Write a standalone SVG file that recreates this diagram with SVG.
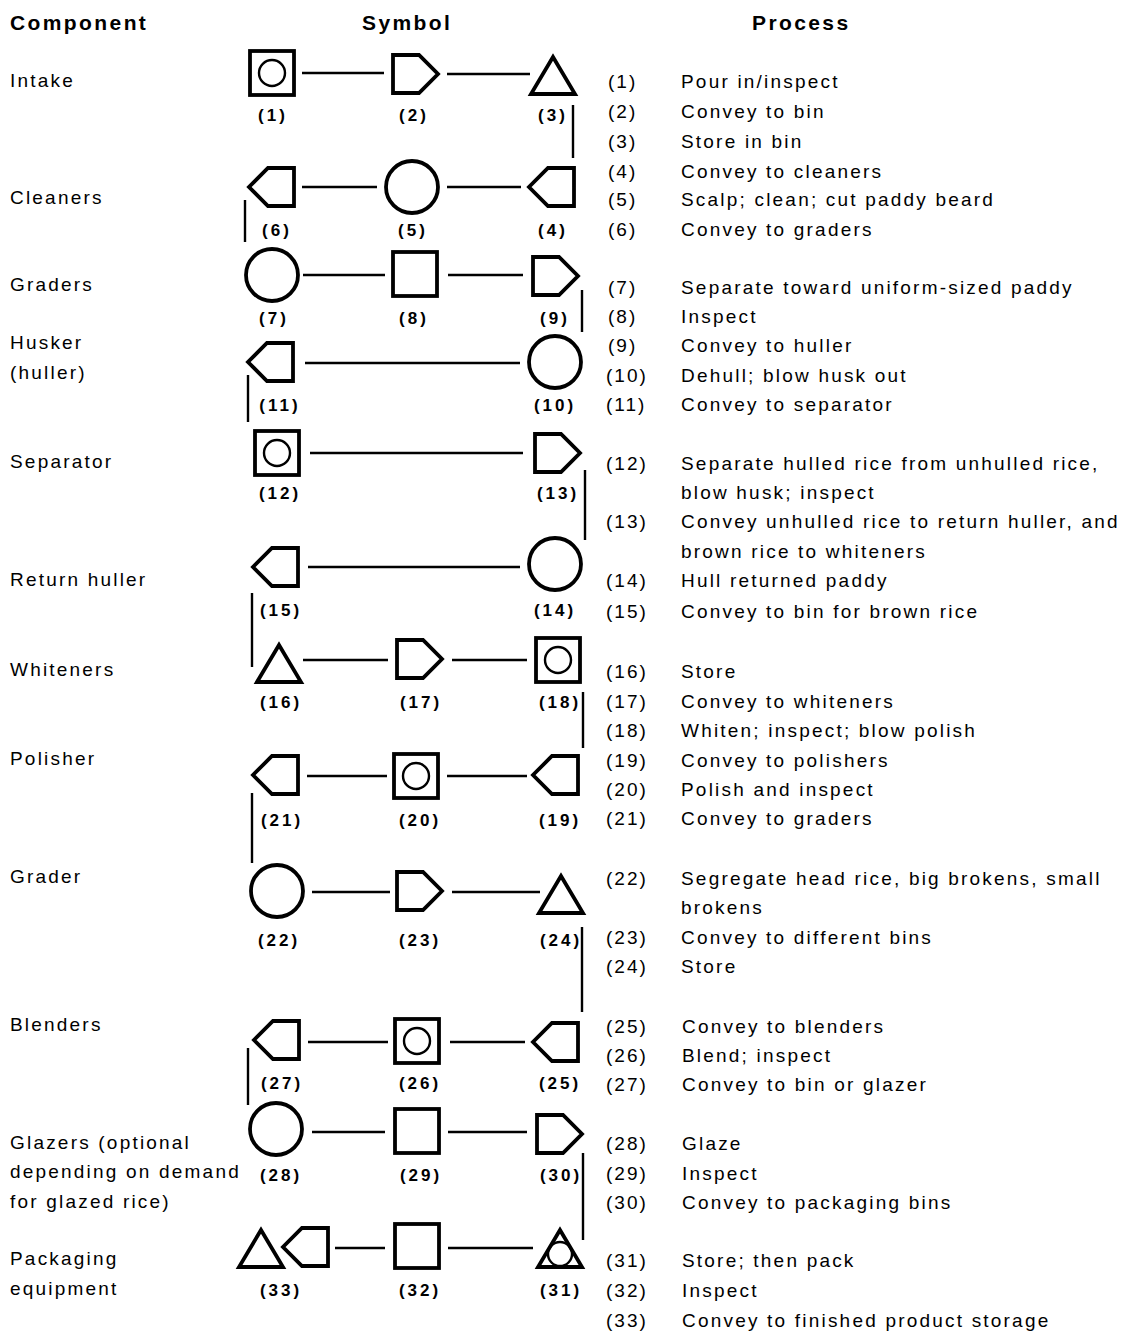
<svg xmlns="http://www.w3.org/2000/svg" xmlns:xlink="http://www.w3.org/1999/xlink" width="1123" height="1334" viewBox="0 0 1123 1334">
<style>
text{font-family:"Liberation Sans",Arial,sans-serif;fill:#000}
.hd{font-size:21px;font-weight:bold;letter-spacing:2.4px}
.cmp{font-size:19px;letter-spacing:2.2px}
.pn{font-size:19px;letter-spacing:2px}
.pt{font-size:19px;letter-spacing:2.2px}
.num{font-size:17px;font-weight:bold;letter-spacing:3px;text-anchor:middle}
.sym{fill:#fff;stroke:#000;stroke-width:3.8;stroke-linejoin:miter}
.in{fill:none;stroke:#000;stroke-width:2.4}
.con{stroke:#000;stroke-width:2.4;fill:none}
</style>
<defs>
<path id="pr" d="M-22,-19 H4 L23,0 L4,19 H-22 Z"/>
<path id="pl" d="M22,-19 H-4 L-23,0 L-4,19 H22 Z"/>
<path id="tri" d="M0,-19 L22,18 H-22 Z"/>
<rect id="sq" x="-22" y="-22" width="44" height="44"/>
<circle id="ci" r="26"/>
</defs>
<rect width="1123" height="1334" fill="#fff"/>

<g id="headers">
<text class="hd" x="10" y="30">Component</text>
<text class="hd" x="362" y="30">Symbol</text>
<text class="hd" x="752" y="30">Process</text>
</g>

<g id="components">
<text class="cmp" x="10" y="87">Intake</text>
<text class="cmp" x="10" y="204">Cleaners</text>
<text class="cmp" x="10" y="291">Graders</text>
<text class="cmp" x="10" y="349">Husker</text>
<text class="cmp" x="10" y="379">(huller)</text>
<text class="cmp" x="10" y="468">Separator</text>
<text class="cmp" x="10" y="586">Return huller</text>
<text class="cmp" x="10" y="676">Whiteners</text>
<text class="cmp" x="10" y="765">Polisher</text>
<text class="cmp" x="10" y="883">Grader</text>
<text class="cmp" x="10" y="1031">Blenders</text>
<text class="cmp" x="10" y="1149">Glazers (optional</text>
<text class="cmp" x="10" y="1178">depending on demand</text>
<text class="cmp" x="10" y="1208">for glazed rice)</text>
<text class="cmp" x="10" y="1265">Packaging</text>
<text class="cmp" x="10" y="1295">equipment</text>
</g>

<g id="connectors">
<line class="con" x1="302" y1="73" x2="384" y2="73"/>
<line class="con" x1="447" y1="74" x2="530" y2="74"/>
<line class="con" x1="573" y1="105" x2="573" y2="158"/>
<line class="con" x1="302" y1="187" x2="377" y2="187"/>
<line class="con" x1="447" y1="187" x2="521" y2="187"/>
<line class="con" x1="245" y1="200" x2="245" y2="242"/>
<line class="con" x1="303" y1="275" x2="385" y2="275"/>
<line class="con" x1="448" y1="275" x2="523" y2="275"/>
<line class="con" x1="582" y1="290" x2="582" y2="332"/>
<line class="con" x1="305" y1="363" x2="520" y2="363"/>
<line class="con" x1="248" y1="375" x2="248" y2="422"/>
<line class="con" x1="310" y1="453" x2="523" y2="453"/>
<line class="con" x1="585" y1="470" x2="585" y2="540"/>
<line class="con" x1="308" y1="567" x2="520" y2="567"/>
<line class="con" x1="252" y1="593" x2="252" y2="667"/>
<line class="con" x1="303" y1="660" x2="388" y2="660"/>
<line class="con" x1="452" y1="660" x2="527" y2="660"/>
<line class="con" x1="583" y1="692" x2="583" y2="748"/>
<line class="con" x1="307" y1="776" x2="387" y2="776"/>
<line class="con" x1="447" y1="776" x2="527" y2="776"/>
<line class="con" x1="252" y1="793" x2="252" y2="863"/>
<line class="con" x1="312" y1="892" x2="390" y2="892"/>
<line class="con" x1="452" y1="892" x2="540" y2="892"/>
<line class="con" x1="582" y1="927" x2="582" y2="1012"/>
<line class="con" x1="308" y1="1042" x2="388" y2="1042"/>
<line class="con" x1="450" y1="1042" x2="525" y2="1042"/>
<line class="con" x1="248" y1="1048" x2="248" y2="1105"/>
<line class="con" x1="312" y1="1132" x2="385" y2="1132"/>
<line class="con" x1="448" y1="1132" x2="527" y2="1132"/>
<line class="con" x1="583" y1="1153" x2="583" y2="1240"/>
<line class="con" x1="335" y1="1248" x2="385" y2="1248"/>
<line class="con" x1="448" y1="1248" x2="533" y2="1248"/>
</g>

<g id="n1"><use href="#sq" class="sym" x="272" y="73"/><circle class="in" cx="272" cy="73" r="13"/><text class="num" x="273" y="121">(1)</text></g>
<g id="n2"><use href="#pr" class="sym" x="415" y="74"/><text class="num" x="414" y="121">(2)</text></g>
<g id="n3"><use href="#tri" class="sym" x="553" y="76"/><text class="num" x="553" y="121">(3)</text></g>
<g id="n4"><use href="#pl" class="sym" x="552" y="187"/><text class="num" x="553" y="236">(4)</text></g>
<g id="n5"><use href="#ci" class="sym" x="412" y="187"/><text class="num" x="413" y="236">(5)</text></g>
<g id="n6"><use href="#pl" class="sym" x="272" y="187"/><text class="num" x="277" y="236">(6)</text></g>
<g id="n7"><use href="#ci" class="sym" x="272" y="275"/><text class="num" x="274" y="324">(7)</text></g>
<g id="n8"><use href="#sq" class="sym" x="415" y="274"/><text class="num" x="414" y="324">(8)</text></g>
<g id="n9"><use href="#pr" class="sym" x="555" y="276"/><text class="num" x="555" y="324">(9)</text></g>
<g id="n10"><use href="#ci" class="sym" x="555" y="362"/><text class="num" x="555" y="411">(10)</text></g>
<g id="n11"><use href="#pl" class="sym" x="271" y="362"/><text class="num" x="280" y="411">(11)</text></g>
<g id="n12"><use href="#sq" class="sym" x="277" y="453"/><circle class="in" cx="277" cy="453" r="13"/><text class="num" x="280" y="499">(12)</text></g>
<g id="n13"><use href="#pr" class="sym" x="557" y="453"/><text class="num" x="558" y="499">(13)</text></g>
<g id="n14"><use href="#ci" class="sym" x="555" y="564"/><text class="num" x="555" y="616">(14)</text></g>
<g id="n15"><use href="#pl" class="sym" x="276" y="567"/><text class="num" x="281" y="616">(15)</text></g>
<g id="n16"><use href="#tri" class="sym" x="279" y="664"/><text class="num" x="281" y="708">(16)</text></g>
<g id="n17"><use href="#pr" class="sym" x="419" y="659"/><text class="num" x="421" y="708">(17)</text></g>
<g id="n18"><use href="#sq" class="sym" x="558" y="660"/><circle class="in" cx="558" cy="660" r="13"/><text class="num" x="560" y="708">(18)</text></g>
<g id="n19"><use href="#pl" class="sym" x="556" y="775"/><text class="num" x="560" y="826">(19)</text></g>
<g id="n20"><use href="#sq" class="sym" x="416" y="776"/><circle class="in" cx="416" cy="776" r="13"/><text class="num" x="420" y="826">(20)</text></g>
<g id="n21"><use href="#pl" class="sym" x="276" y="775"/><text class="num" x="282" y="826">(21)</text></g>
<g id="n22"><use href="#ci" class="sym" x="277" y="891"/><text class="num" x="279" y="946">(22)</text></g>
<g id="n23"><use href="#pr" class="sym" x="419" y="891"/><text class="num" x="420" y="946">(23)</text></g>
<g id="n24"><use href="#tri" class="sym" x="561" y="895"/><text class="num" x="561" y="946">(24)</text></g>
<g id="n25"><use href="#pl" class="sym" x="556" y="1042"/><text class="num" x="560" y="1089">(25)</text></g>
<g id="n26"><use href="#sq" class="sym" x="417" y="1041"/><circle class="in" cx="417" cy="1041" r="13"/><text class="num" x="420" y="1089">(26)</text></g>
<g id="n27"><use href="#pl" class="sym" x="277" y="1040"/><text class="num" x="282" y="1089">(27)</text></g>
<g id="n28"><use href="#ci" class="sym" x="276" y="1129"/><text class="num" x="281" y="1181">(28)</text></g>
<g id="n29"><use href="#sq" class="sym" x="417" y="1131"/><text class="num" x="421" y="1181">(29)</text></g>
<g id="n30"><use href="#pr" class="sym" x="559" y="1134"/><text class="num" x="561" y="1181">(30)</text></g>
<g id="n31"><use href="#tri" class="sym" x="560" y="1249"/><circle class="in" cx="560" cy="1254" r="12"/><text class="num" x="561" y="1296">(31)</text></g>
<g id="n32"><use href="#sq" class="sym" x="417" y="1246"/><text class="num" x="420" y="1296">(32)</text></g>
<g id="n33"><use href="#tri" class="sym" x="261" y="1249"/><use href="#pl" class="sym" x="306" y="1247"/><text class="num" x="281" y="1296">(33)</text></g>

<g id="process">
<text class="pn" x="608" y="88">(1)</text><text class="pt" x="681" y="88">Pour in/inspect</text>
<text class="pn" x="608" y="118">(2)</text><text class="pt" x="681" y="118">Convey to bin</text>
<text class="pn" x="608" y="148">(3)</text><text class="pt" x="681" y="148">Store in bin</text>
<text class="pn" x="608" y="178">(4)</text><text class="pt" x="681" y="178">Convey to cleaners</text>
<text class="pn" x="608" y="206">(5)</text><text class="pt" x="681" y="206">Scalp; clean; cut paddy beard</text>
<text class="pn" x="608" y="236">(6)</text><text class="pt" x="681" y="236">Convey to graders</text>
<text class="pn" x="608" y="294">(7)</text><text class="pt" x="681" y="294">Separate toward uniform-sized paddy</text>
<text class="pn" x="608" y="323">(8)</text><text class="pt" x="681" y="323">Inspect</text>
<text class="pn" x="608" y="352">(9)</text><text class="pt" x="681" y="352">Convey to huller</text>
<text class="pn" x="606" y="382">(10)</text><text class="pt" x="681" y="382">Dehull; blow husk out</text>
<text class="pn" x="606" y="411">(11)</text><text class="pt" x="681" y="411">Convey to separator</text>
<text class="pn" x="606" y="470">(12)</text><text class="pt" x="681" y="470">Separate hulled rice from unhulled rice,</text>
<text class="pt" x="681" y="499">blow husk; inspect</text>
<text class="pn" x="606" y="528">(13)</text><text class="pt" x="681" y="528">Convey unhulled rice to return huller, and</text>
<text class="pt" x="681" y="558">brown rice to whiteners</text>
<text class="pn" x="606" y="587">(14)</text><text class="pt" x="681" y="587">Hull returned paddy</text>
<text class="pn" x="606" y="618">(15)</text><text class="pt" x="681" y="618">Convey to bin for brown rice</text>
<text class="pn" x="606" y="678">(16)</text><text class="pt" x="681" y="678">Store</text>
<text class="pn" x="606" y="708">(17)</text><text class="pt" x="681" y="708">Convey to whiteners</text>
<text class="pn" x="606" y="737">(18)</text><text class="pt" x="681" y="737">Whiten; inspect; blow polish</text>
<text class="pn" x="606" y="767">(19)</text><text class="pt" x="681" y="767">Convey to polishers</text>
<text class="pn" x="606" y="796">(20)</text><text class="pt" x="681" y="796">Polish and inspect</text>
<text class="pn" x="606" y="825">(21)</text><text class="pt" x="681" y="825">Convey to graders</text>
<text class="pn" x="606" y="885">(22)</text><text class="pt" x="681" y="885">Segregate head rice, big brokens, small</text>
<text class="pt" x="681" y="914">brokens</text>
<text class="pn" x="606" y="944">(23)</text><text class="pt" x="681" y="944">Convey to different bins</text>
<text class="pn" x="606" y="973">(24)</text><text class="pt" x="681" y="973">Store</text>
<text class="pn" x="606" y="1033">(25)</text><text class="pt" x="682" y="1033">Convey to blenders</text>
<text class="pn" x="606" y="1062">(26)</text><text class="pt" x="682" y="1062">Blend; inspect</text>
<text class="pn" x="606" y="1091">(27)</text><text class="pt" x="682" y="1091">Convey to bin or glazer</text>
<text class="pn" x="606" y="1150">(28)</text><text class="pt" x="682" y="1150">Glaze</text>
<text class="pn" x="606" y="1180">(29)</text><text class="pt" x="682" y="1180">Inspect</text>
<text class="pn" x="606" y="1209">(30)</text><text class="pt" x="682" y="1209">Convey to packaging bins</text>
<text class="pn" x="606" y="1267">(31)</text><text class="pt" x="682" y="1267">Store; then pack</text>
<text class="pn" x="606" y="1297">(32)</text><text class="pt" x="682" y="1297">Inspect</text>
<text class="pn" x="606" y="1327">(33)</text><text class="pt" x="682" y="1327">Convey to finished product storage</text>
</g>
</svg>
